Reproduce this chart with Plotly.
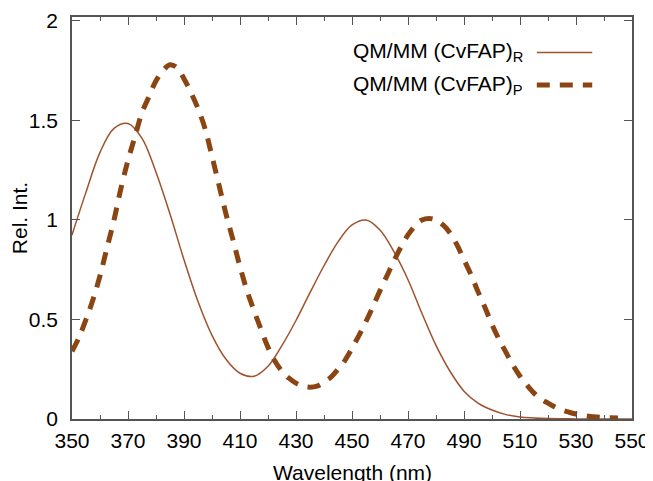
import plotly.graph_objects as go

# Wavelength (nm) and relative intensity
wl_R = [350, 355, 360, 365, 370, 375, 380, 385, 390, 395, 400, 405, 410, 415,
        420, 425, 430, 435, 440, 445, 450, 455, 460, 465, 470, 475, 480, 485, 490,
        495, 500, 505, 510, 515, 520, 525, 530, 535, 540, 545, 550]
int_R = [0.925, 1.14, 1.34, 1.46, 1.485, 1.41, 1.24, 1.03, 0.80, 0.59, 0.42,
         0.30, 0.23, 0.215, 0.265, 0.37, 0.495, 0.635, 0.77, 0.89, 0.975, 1.0, 0.95,
         0.84, 0.70, 0.53, 0.37, 0.24, 0.14, 0.08, 0.045, 0.022, 0.01, 0.005, 0.002,
         0.001, 0.0005, 0.0, 0.0, 0.0, 0.0]

wl_P = [350, 352.5, 355, 357.5, 360, 362.5, 365, 367.5, 370, 372.5, 375, 377.5, 380,
        382.5, 385, 387.5, 390, 392.5, 395, 397.5, 400, 402.5, 405, 407.5, 410, 412.5,
        415, 417.5, 420, 422.5, 425, 427.5, 430, 432.5, 435, 437.5, 440, 442.5, 445,
        447.5, 450, 452.5, 455, 457.5, 460, 462.5, 465, 467.5, 470, 472.5, 475, 477.5,
        480, 482.5, 485, 487.5, 490, 492.5, 495, 497.5, 500, 502.5, 505, 507.5, 510,
        512.5, 515, 517.5, 520, 522.5, 525, 527.5, 530, 532.5, 535, 537.5, 540, 542.5, 545]
int_P = [0.34, 0.41, 0.50, 0.60, 0.72, 0.86, 1.00, 1.16, 1.30, 1.42, 1.54, 1.62, 1.70,
         1.75, 1.78, 1.765, 1.71, 1.64, 1.56, 1.46, 1.32, 1.175, 1.03, 0.90, 0.765, 0.645,
         0.545, 0.45, 0.36, 0.29, 0.24, 0.205, 0.18, 0.165, 0.16, 0.165, 0.185, 0.21, 0.25,
         0.295, 0.355, 0.42, 0.49, 0.565, 0.645, 0.72, 0.795, 0.865, 0.925, 0.97, 1.00, 1.008,
         1.00, 0.975, 0.935, 0.875, 0.80, 0.725, 0.64, 0.56, 0.475, 0.40, 0.335, 0.27, 0.215,
         0.17, 0.13, 0.10, 0.08, 0.06, 0.045, 0.034, 0.025, 0.018, 0.013, 0.01, 0.008, 0.006, 0.005]

x_ticks = [350, 370, 390, 410, 430, 450, 470, 490, 510, 530, 550]
y_ticks = [0, 0.5, 1, 1.5, 2]
y_tick_labels = ["0", "0.5", "1", "1.5", "2"]
names = ["QM/MM (CvFAP)<sub>R</sub>", "QM/MM (CvFAP)<sub>P</sub>"]
x_title = "Wavelength (nm)"
y_title = "Rel. Int."

COL_R = "#A0522D"
COL_P = "#8B4513"
FONT = "Liberation Sans, Arial, sans-serif"
FS = 21

fig = go.Figure()
fig.add_trace(go.Scatter(x=wl_R, y=int_R, mode="lines", name=names[0],
                         line=dict(color=COL_R, width=1.5, shape="spline", smoothing=1.0),
                         showlegend=False))
fig.add_trace(go.Scatter(x=wl_P, y=int_P, mode="lines", name=names[1],
                         line=dict(color=COL_P, width=5, shape="spline", dash="13px,10px"),
                         showlegend=False))

axis_common = dict(showgrid=False, zeroline=False, showline=True, linecolor="#555555",
                   linewidth=1.5, mirror="ticks", ticks="inside", tickcolor="#555555",
                   tickwidth=1.2, ticklen=8, automargin=False,
                   tickfont=dict(family=FONT, size=FS, color="black"))

fig.update_xaxes(range=[350, 550], tickvals=x_ticks, ticktext=[str(v) for v in x_ticks],
                 minor=dict(ticks="inside", ticklen=4, tickcolor="#555555", dtick=10,
                            tick0=350, showgrid=False),
                 ticklabelstandoff=2,
                 **axis_common)
fig.update_yaxes(range=[0, 2.02], tickvals=y_ticks, ticktext=y_tick_labels,
                 title=dict(text=y_title, font=dict(family=FONT, size=FS, color="black"),
                            standoff=0),
                 ticklabelstandoff=8,
                 **axis_common)

# x-axis title placed just below the tick labels (partly cut by the bottom edge, as in the reference)
fig.add_annotation(xref="paper", yref="paper", x=0.5, y=-0.132, text=x_title,
                   showarrow=False, xanchor="center", yanchor="middle",
                   font=dict(family=FONT, size=FS, color="black"))

# legend (text on the left, line sample on the right)
leg_rows = [0.912, 0.831]
for name, yy, col, w, dash in [(names[0], leg_rows[0], COL_R, 1.5, "solid"),
                               (names[1], leg_rows[1], COL_P, 5, "13px,10px")]:
    fig.add_annotation(xref="paper", yref="paper", x=0.809, y=yy, text=name,
                       showarrow=False, xanchor="right", yanchor="middle",
                       font=dict(family=FONT, size=FS, color="black"))
    fig.add_shape(type="line", xref="paper", yref="paper", x0=0.830, x1=0.929,
                  y0=yy, y1=yy, line=dict(color=col, width=w, dash=dash))

# page body adds an 8 px offset; size and margins compensate for it
fig.update_layout(width=645, height=473, margin=dict(l=64, r=21, t=9, b=62),
                  plot_bgcolor="white", paper_bgcolor="white",
                  font=dict(family=FONT, size=FS, color="black"))

fig.write_html("out.html")
